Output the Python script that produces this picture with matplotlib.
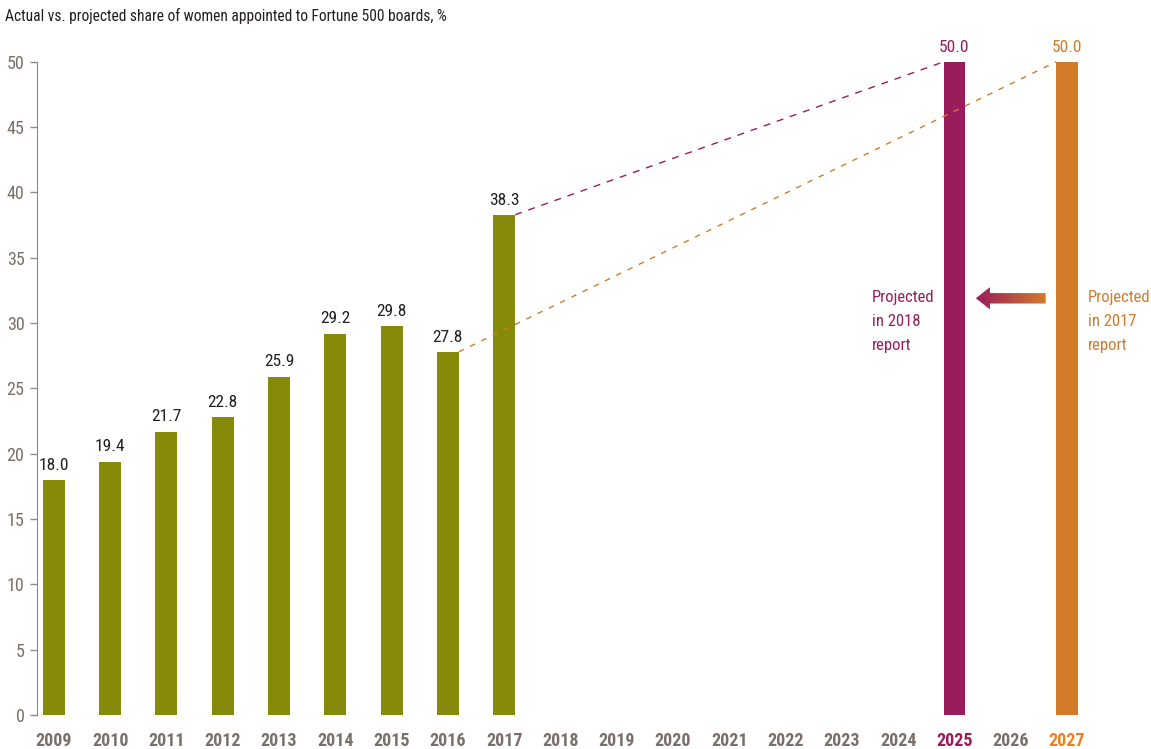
import numpy as np
import matplotlib.pyplot as plt
from matplotlib.patches import Polygon
from matplotlib.colors import LinearSegmentedColormap

plt.rcParams['font.family'] = ['Roboto Condensed', 'Archivo Narrow', 'Liberation Sans Narrow',
                               'Roboto', 'DejaVu Sans']

# --- data ---
years = list(range(2009, 2028))
actual_years = [2009, 2010, 2011, 2012, 2013, 2014, 2015, 2016, 2017]
actual_values = [18.0, 19.4, 21.7, 22.8, 25.9, 29.2, 29.8, 27.8, 38.3]
proj_2018_year, proj_2018_value = 2025, 50.0
proj_2017_year, proj_2017_value = 2027, 50.0
yticks = [0, 5, 10, 15, 20, 25, 30, 35, 40, 45, 50]

OLIVE = '#858a0b'
PURPLE = '#991d5a'
ORANGE = '#d27b2b'
GREY = '#7b6f6a'

fig = plt.figure(figsize=(11.51, 7.49), dpi=100)
ax = fig.add_axes([0.0321, 0.0454, 0.939, 0.872])

w = 0.39
xa = [years.index(y) for y in actual_years]
ax.bar(xa, actual_values, width=w, color=OLIVE, clip_on=False)
for x, v in zip(xa, actual_values):
    ax.text(x, v + 0.55, f'{v:.1f}', ha='center', va='bottom', fontsize=12.5, color='#231f20')

x25 = years.index(proj_2018_year)
x27 = years.index(proj_2017_year)
ax.bar([x25], [proj_2018_value], width=w, color=PURPLE, clip_on=False)
ax.bar([x27], [proj_2017_value], width=w, color=ORANGE, clip_on=False)
ax.text(x25, proj_2018_value + 0.55, f'{proj_2018_value:.1f}', ha='center', va='bottom',
        fontsize=12.5, color=PURPLE)
ax.text(x27, proj_2017_value + 0.55, f'{proj_2017_value:.1f}', ha='center', va='bottom',
        fontsize=12.5, color=ORANGE)

# dashed trend lines
x17 = years.index(2017)
x16 = years.index(2016)
ax.plot([x17 + w / 2, x25 - w / 2], [actual_values[-1], proj_2018_value],
        ls=(0, (5, 5)), lw=1, color=PURPLE, clip_on=False)
ax.plot([x16 + w / 2, x27 - w / 2], [actual_values[-2], proj_2017_value],
        ls=(0, (4, 5)), lw=1, color=ORANGE, clip_on=False)

# gradient arrow pointing left
ay = 31.9
x0, x1 = x25 + 0.38, x27 - 0.38
hl = 0.25
sh, hh = 0.4, 0.85
arrow = Polygon([[x0, ay], [x0 + hl, ay + hh], [x0 + hl, ay + sh], [x1, ay + sh],
                 [x1, ay - sh], [x0 + hl, ay - sh], [x0 + hl, ay - hh]],
                closed=True, facecolor='none', edgecolor='none')
ax.add_patch(arrow)
grad = np.linspace(0, 1, 256).reshape(1, -1)
cmap = LinearSegmentedColormap.from_list('pg', [PURPLE, ORANGE])
im = ax.imshow(grad, extent=[x0, x1, ay - hh, ay + hh], aspect='auto', cmap=cmap, zorder=3)
im.set_clip_path(arrow)

ax.text(x25 - 1.47, 32.5, 'Projected\nin 2018\nreport', ha='left', va='top',
        fontsize=12, color=PURPLE, linespacing=1.75)
ax.text(x27 + 0.37, 32.5, 'Projected\nin 2017\nreport', ha='left', va='top',
        fontsize=12, color=ORANGE, linespacing=1.75, clip_on=False)

ax.set_xlim(-0.3, 18.9)
ax.set_ylim(0, 50)
ax.set_yticks(yticks)
ax.set_xticks(range(len(years)))
ax.set_xticklabels([str(y) for y in years], fontsize=13, fontweight='bold', color=GREY)
ax.get_xticklabels()[x25].set_color(PURPLE)
ax.get_xticklabels()[x27].set_color('#f07f22')
ax.tick_params(axis='x', length=0, pad=12)
ax.tick_params(axis='y', length=5, width=1, color='#8a8a8a', labelsize=13,
               labelcolor=GREY, pad=4)

for s in ['top', 'right', 'bottom']:
    ax.spines[s].set_visible(False)
ax.spines['left'].set_color('#8a8a8a')
ax.spines['left'].set_bounds(0, 50)

fig.text(0.004, 0.978, 'Actual vs. projected share of women appointed to Fortune 500 boards, %',
         ha='left', va='center', fontsize=11.2, color='#231f20')

fig.savefig('out.png', dpi=100)
